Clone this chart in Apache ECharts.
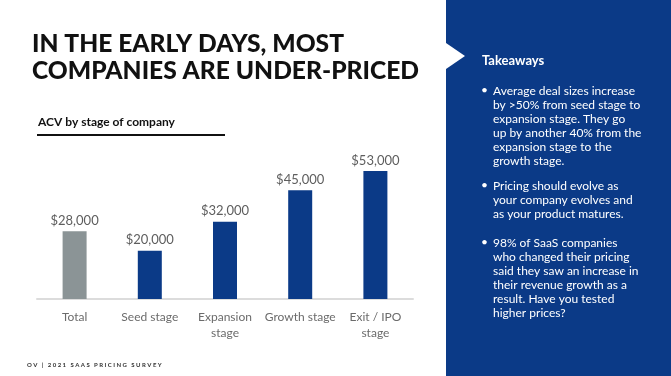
<!DOCTYPE html>
<html>
<head>
<meta charset="utf-8">
<script src="https://cdn.jsdelivr.net/npm/echarts@6/dist/echarts.min.js"></script>
<style>
  html, body { margin: 0; padding: 0; background: #fff; }
  #chart { width: 671px; height: 376px; }
</style>
</head>
<body>
<div id="chart"></div>
<script>
// data
const categories = ['Total', 'Seed stage', 'Expansion\nstage', 'Growth stage', 'Exit / IPO\nstage'];
const acvValues = [28000, 20000, 32000, 45000, 53000];
const takeaways = [
  'Average deal sizes increase\nby >50% from seed stage to\nexpansion stage. They go\nup by another 40% from the\nexpansion stage to the\ngrowth stage.',
  'Pricing should evolve as\nyour company evolves and\nas your product matures.',
  '98% of SaaS companies\nwho changed their pricing\nsaid they saw an increase in\ntheir revenue growth as a\nresult. Have you tested\nhigher prices?'
];

const BLUE = '#0b3a87';
const GREY = '#8b9496';
const FONT = 'Lato, "Open Sans", sans-serif';

const chart = echarts.init(document.getElementById('chart'));

// bullets for the right panel
const bulletTop = [84, 179, 236];
const bulletItems = [];
takeaways.forEach((t, i) => {
  bulletItems.push({
    type: 'text', left: 481, top: bulletTop[i],
    style: { text: '•', fill: '#fff', font: '12px ' + FONT }
  });
  bulletItems.push({
    type: 'text', left: 493, top: bulletTop[i],
    style: { text: t, fill: '#fff', font: '12px ' + FONT, lineHeight: 14 }
  });
});

const option = {
  backgroundColor: '#fff',
  animation: false,
  grid: { left: 37, right: 258, top: 154, bottom: 77 },
  xAxis: {
    type: 'category',
    data: categories,
    axisLine: { lineStyle: { color: '#dcdcdc', width: 2 } },
    axisTick: { show: false },
    axisLabel: { color: '#6b6b6b', fontSize: 12, fontFamily: FONT, margin: 10, lineHeight: 16, interval: 0 }
  },
  yAxis: {
    type: 'value', min: 0, max: 60000,
    show: false
  },
  series: [{
    type: 'bar',
    barWidth: 24,
    data: acvValues.map((v, i) => ({
      value: v,
      itemStyle: { color: i === 0 ? GREY : BLUE }
    })),
    label: {
      show: true, position: 'top', distance: 4,
      color: '#5e5e5e', fontSize: 13, fontFamily: FONT,
      formatter: p => '$' + p.value.toLocaleString('en-US')
    }
  }],
  graphic: [
    // right panel
    { type: 'rect', shape: { x: 446, y: 0, width: 225, height: 376 }, style: { fill: BLUE } },
    { type: 'polygon', shape: { points: [[446, 43], [465, 56], [446, 69]] }, style: { fill: '#fff' } },
    { type: 'text', left: 482, top: 54, style: { text: 'Takeaways', fill: '#fff', font: 'bold 13px ' + FONT } },
    ...bulletItems,
    // title
    { type: 'text', left: 32, top: 31, style: {
        text: 'IN THE EARLY DAYS, MOST\nCOMPANIES ARE UNDER-PRICED',
        fill: '#111', font: '900 24.6px ' + FONT, lineHeight: 27 } },
    // subtitle + underline
    { type: 'text', left: 38, top: 116, style: { text: 'ACV by stage of company', fill: '#111', font: 'bold 12px ' + FONT } },
    { type: 'rect', shape: { x: 37, y: 134, width: 188, height: 2 }, style: { fill: '#111' } },
    // footer
    { type: 'text', left: 27, top: 362, style: {
        text: 'O V   |   2 0 2 1   S A A S   P R I C I N G   S U R V E Y',
        fill: '#333', font: 'bold 6px ' + FONT } }
  ]
};

chart.setOption(option);
window.addEventListener('resize', () => chart.resize());
</script>
</body>
</html>
